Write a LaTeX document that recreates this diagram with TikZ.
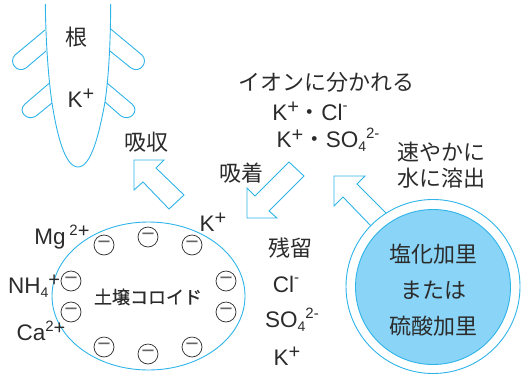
\documentclass[tikz,border=0pt]{standalone}
\usepackage{fontspec}
\setmainfont{Liberation Sans}
\newfontfamily\cjk{Noto Sans CJK JP}
\newfontfamily\cjkheavy[FakeBold=0.6]{Noto Sans CJK JP}
\usetikzlibrary{calc, shapes.geometric}
\definecolor{rootblue}{HTML}{2FB4E9}
\definecolor{saltblue}{HTML}{8AD5F7}
\definecolor{inktext}{HTML}{2B2B2B}
\newcommand{\ionsup}[1]{\raisebox{0.42em}{\fontsize{15}{15}\selectfont #1}}
\newcommand{\ionplus}{\raisebox{0.3em}{\fontsize{20}{20}\selectfont +}}
\newcommand{\ionsub}[1]{\raisebox{-0.18em}{\fontsize{14}{14}\selectfont #1}}
\tikzstyle{jp} = [inner sep=0pt, text=inktext, font=\cjk\fontsize{22}{26}\selectfont, align=center]
\tikzstyle{ion} = [inner sep=0pt, text=inktext, font=\fontsize{22.5}{26}\selectfont]
\tikzstyle{line} = [draw=rootblue, line width=0.9pt]
\tikzstyle{charge} = [circle, draw=inktext, line width=0.7pt, minimum size=20pt, inner sep=0pt, fill=white, text=black!60, font=\fontsize{23}{23}\selectfont]
\tikzstyle{soil} = [ellipse, draw=rootblue, line width=0.9pt, minimum width=193pt, minimum height=148pt, inner sep=0pt]

\begin{document}
\begin{tikzpicture}[x=1pt, y=-1pt, node distance=36pt]
	\useasboundingbox (0,0) rectangle (524,375);

	% root with its four hairs
	\draw [line] (45.3,4) .. controls (45.8,40) and (48,75) .. (52,103) .. controls (57,135) and (65,167) .. (78,167) .. controls (91,167) and (99,135) .. (105,102) .. controls (109,75) and (110.5,40) .. (110.7,4);
	\draw [line] (45,30) -- (15,55) .. controls (8,62) and (17,74) .. (26,68) -- (46,51);
	\draw [line] (110.7,29) -- (142,55) .. controls (149,62) and (140,74) .. (131,68) -- (110,51);
	\draw [line] (49.5,83) -- (25,104) .. controls (17,111) and (27,122) .. (36,116) -- (52,103);
	\draw [line] (107,83) -- (132,104) .. controls (140,111) and (130,122) .. (121,116) -- (105,102);
	\node (rootlabel)[jp] at (76,37) {根};
	\node (rootion)[ion] at (81,98) {K\ionplus};

	% block arrows
	\draw [line, fill=white] (134,160) -- (164,160) -- (156,168) -- (184,195) -- (169,209) -- (143,182) -- (134,190) -- cycle;
	\draw [line, fill=white] (289,162) -- (304,176) -- (269,211) -- (277,218) -- (247,218) -- (247,188) -- (255,196) -- cycle;
	\draw [line, fill=white] (386,213) -- (357,184) -- (365,176) -- (334,176) -- (334,206) -- (343,197) -- (371,226);
	\node (absorb)[jp] at (146,142) {吸収};
	\node (adsorb)[jp] at (241,173) {吸着};

	% dissociated ions
	\node (split)[jp] at (326,82) {イオンに分かれる};
	\node (kcl)[ion] at (310,111) {K\ionplus\cjk・\rmfamily Cl\ionsup{-}};
	\node (kso)[ion, below of=kcl, yshift=7pt, xshift=18pt] {K\ionplus\cjk・\rmfamily SO\ionsub{4}\ionsup{2-}};
	\node (quick)[jp] at (441,165) {速やかに\\水に溶出};

	% soil colloid with fixed charges
	\node (colloid)[soil] at (148.5,296) {};
	\node (colloidlabel)[jp, font=\cjkheavy\fontsize{18}{22}\selectfont] at (148,297) {土壌コロイド};
	\node (q1)[charge] at (104,245) {−};
	\node (q2)[charge] at (148,237) {−};
	\node (q3)[charge] at (192,245) {−};
	\node (q4)[charge] at (226,281) {−};
	\node (q5)[charge] at (226,312) {−};
	\node (q6)[charge] at (192,347) {−};
	\node (q7)[charge] at (148,354) {−};
	\node (q8)[charge] at (104,347) {−};
	\node (q9)[charge] at (71,281) {−};
	\node (q10)[charge] at (71,312) {−};
	\node (mg)[ion] at (62,237) {Mg\,\ionsup{2}\ionplus};
	\node (nh)[ion] at (34,286) {NH\ionsub{4}\ionplus};
	\node (ca)[ion] at (41,331) {Ca\ionsup{2}\ionplus};
	\node (kad)[ion] at (213,222) {K\ionplus};

	% what stays behind
	\node (remain)[jp] at (290,248) {残留};
	\node (clrest)[ion, below of=remain, xshift=-4pt] {Cl\ionsup{-}};
	\node (sorest)[ion, below of=clrest, xshift=6pt] {SO\ionsub{4}\ionsup{2-}};
	\node (krest)[ion, below of=sorest, xshift=-5pt] {K\ionplus};

	% fertilizer grain
	\node (grain)[circle, draw=rootblue, line width=0.9pt, minimum size=174pt, inner sep=0pt, fill=white] at (433,286.5) {};
	\node (core)[circle, draw=rootblue, line width=0.9pt, minimum size=155pt, inner sep=0pt, fill=saltblue] at (433,287) {};
	\node (salt1)[jp] at (433,254) {塩化加里};
	\node (salt2)[jp, below of=salt1] {または};
	\node (salt3)[jp, below of=salt2] {硫酸加里};
\end{tikzpicture}
\end{document}
